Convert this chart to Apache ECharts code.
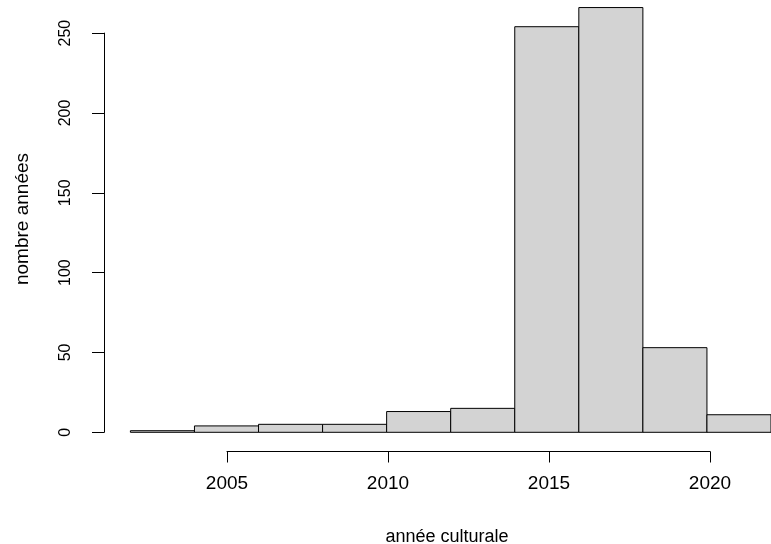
<!DOCTYPE html>
<html>
<head>
<meta charset="utf-8">
<script src="https://cdn.jsdelivr.net/npm/echarts@6/dist/echarts.min.js"></script>
<style>
html,body{margin:0;padding:0;background:#fff;}
#chart{width:771px;height:544px;}
</style>
</head>
<body>
<div id="chart"></div>
<script>
// Histogram data (bin edges in years, counts)
const binStarts = [2002, 2004, 2006, 2008, 2010, 2012, 2014, 2016, 2018, 2020];
const binEnds   = [2004, 2006, 2008, 2010, 2012, 2014, 2016, 2018, 2020, 2022];
const counts    = [1, 4, 5, 5, 13, 15, 254, 266, 53, 11];
const xTicks = [2005, 2010, 2015, 2020];
const yTicks = [0, 50, 100, 150, 200, 250];
const xTitle = 'année culturale';
const yTitle = 'nombre années';

const FONT = '"Liberation Sans", Arial, sans-serif';
const chart = echarts.init(document.getElementById('chart'), null, {renderer: 'canvas'});

const pxPerUnit = 399.2 / 250;          // vertical scale
const baseY = 432.3;                    // y pixel of 0
const yMaxMain = 270;
const mainTop = baseY - yMaxMain * pxPerUnit;
const pxPerYear = 32.2;
const x2002 = 130.4;

const barData = binStarts.map((s, i) => [s, binEnds[i], counts[i]]);

const option = {
  animation: false,
  backgroundColor: '#ffffff',
  grid: [
    {left: x2002, width: 20 * pxPerYear, top: mainTop, height: yMaxMain * pxPerUnit, containLabel: false},
    {left: 104, width: 10, top: baseY - 250 * pxPerUnit, height: 250 * pxPerUnit, containLabel: false},
    {left: x2002 + 3 * pxPerYear, width: 15 * pxPerYear, top: 400, height: 51.5, containLabel: false}
  ],
  xAxis: [
    {gridIndex: 0, type: 'value', min: binStarts[0], max: binEnds[binEnds.length - 1], show: false},
    {gridIndex: 1, type: 'value', min: 0, max: 1, show: false},
    {gridIndex: 2, type: 'value', min: xTicks[0], max: xTicks[xTicks.length - 1], interval: 5,
      axisLine: {show: true, lineStyle: {color: '#000', width: 1}},
      axisTick: {show: true, length: 11, lineStyle: {color: '#000', width: 1}},
      axisLabel: {show: true, margin: 23, color: '#000', fontSize: 19, fontFamily: FONT,
        formatter: function (v) { return String(v); }},
      splitLine: {show: false}}
  ],
  yAxis: [
    {gridIndex: 0, type: 'value', min: 0, max: yMaxMain, show: false},
    {gridIndex: 1, type: 'value', min: yTicks[0], max: yTicks[yTicks.length - 1], interval: 50,
      axisLine: {show: true, lineStyle: {color: '#000', width: 1}},
      axisTick: {show: true, length: 12, lineStyle: {color: '#000', width: 1}},
      axisLabel: {show: true, rotate: 90, margin: 30, color: '#000', fontSize: 16, fontFamily: FONT,
        formatter: function (v) { return String(v); }},
      splitLine: {show: false}},
    {gridIndex: 2, type: 'value', min: 0, max: 1, show: false}
  ],
  series: [{
    type: 'custom',
    xAxisIndex: 0,
    yAxisIndex: 0,
    clip: false,
    data: barData,
    renderItem: function (params, api) {
      const p0 = api.coord([api.value(0), api.value(2)]);
      const p1 = api.coord([api.value(1), 0]);
      return {
        type: 'rect',
        shape: {x: p0[0], y: p0[1], width: p1[0] - p0[0], height: p1[1] - p0[1]},
        style: {fill: '#d3d3d3', stroke: '#000', lineWidth: 1}
      };
    }
  }],
  graphic: [
    {type: 'text', position: [447, 537], style: {text: xTitle, font: '18px ' + FONT, fill: '#000', textAlign: 'center', textVerticalAlign: 'middle'}},
    {type: 'text', rotation: Math.PI / 2, position: [23, 219], style: {text: yTitle, font: '19px ' + FONT, fill: '#000', textAlign: 'center', textVerticalAlign: 'middle'}}
  ]
};
chart.setOption(option);
</script>
</body>
</html>
